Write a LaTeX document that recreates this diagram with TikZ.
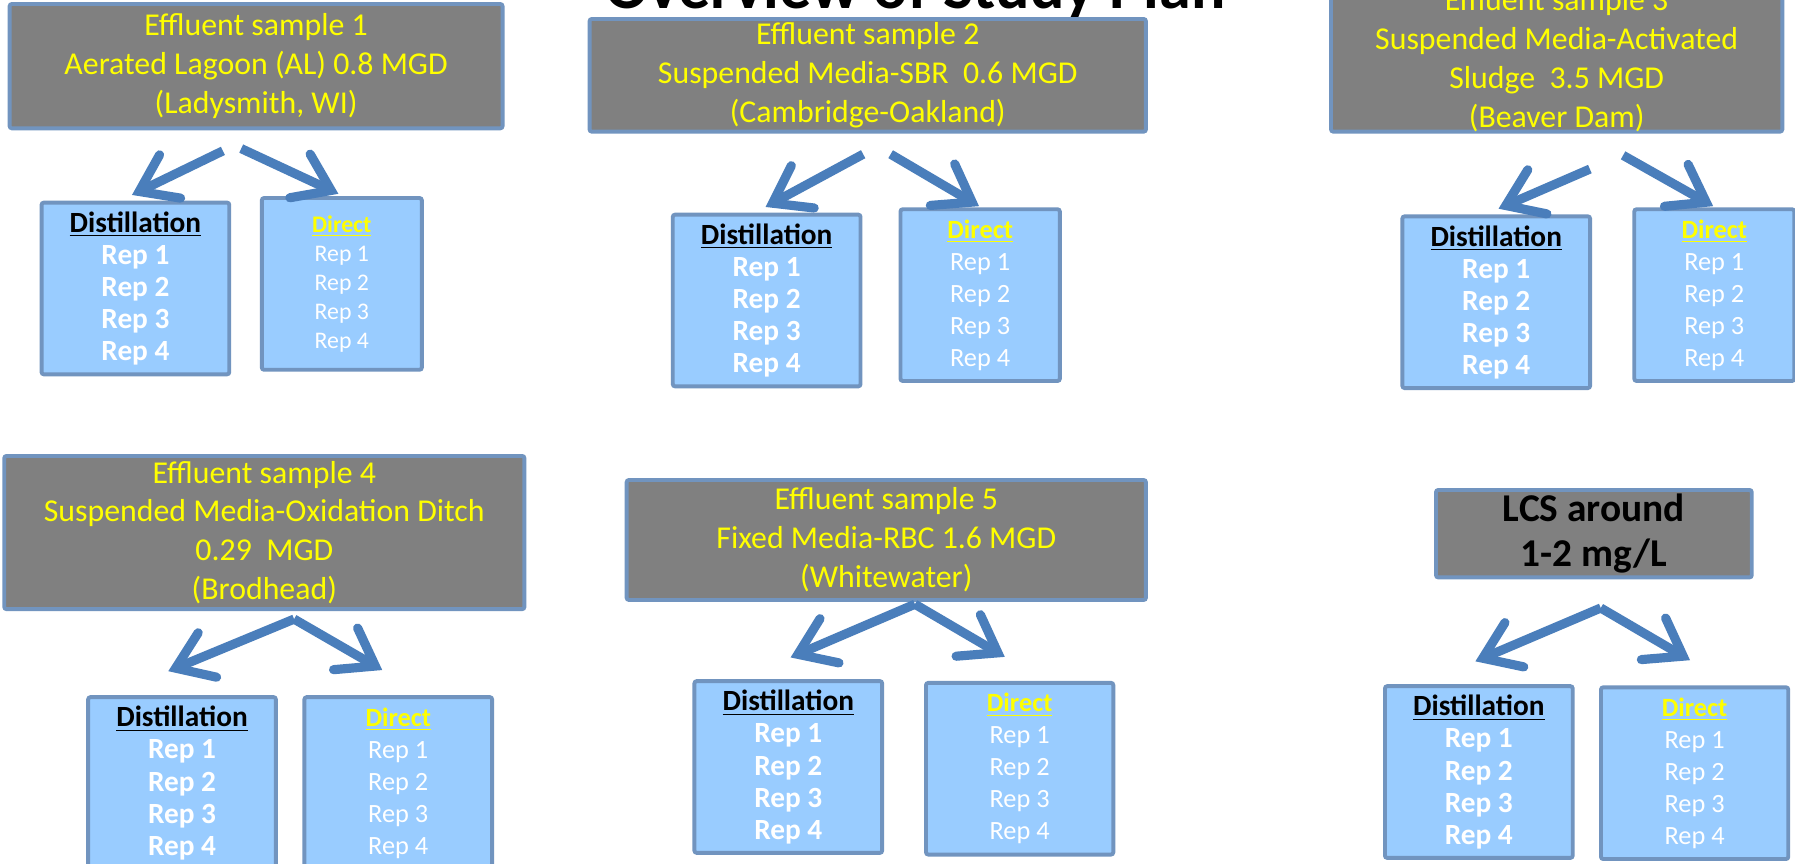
\documentclass[tikz,border=0pt]{standalone}
\usepackage{fontspec}
\setmainfont{Carlito}
\usetikzlibrary{arrows.meta,calc}

\definecolor{slidegray}{HTML}{808080}
\definecolor{edgeblue}{HTML}{7194BF}
\definecolor{paleblue}{HTML}{99CCFF}
\definecolor{arrowblue}{HTML}{4A7EBB}
\definecolor{hiyellow}{HTML}{FFFF00}

\begin{document}
\begin{tikzpicture}[x=0.5pt, y=-0.5pt,
    sample/.style={rectangle, draw=edgeblue, line width=1.7pt, fill=slidegray, text=hiyellow, align=center, inner sep=0pt, rounded corners=1pt, font=\fontsize{13.9}{17}\selectfont},
    rep/.style={rectangle, draw=edgeblue, line width=1.7pt, fill=paleblue, text=white, align=center, inner sep=0pt, rounded corners=1pt, minimum height=75pt},
    dist/.style={rep, minimum width=82pt, font=\bfseries\fontsize{12.8}{14}\selectfont},
    direct/.style={rep, font=\fontsize{11.5}{14}\selectfont},
    line/.style={draw=arrowblue, line width=4pt, -{Straight Barb[length=15pt, width=21pt, line cap=round]}}]

    \useasboundingbox (0,0) rectangle (1568,754);
    \clip (0,0) rectangle (1568,754);
    \fill[white] (0,0) rectangle (1568,754);

    \node[font=\bfseries\fontsize{28}{33}\selectfont, anchor=base] (title) at (799.5,7) {Overview of Study Plan};

    % effluent samples
    \node[sample, minimum width=215.3pt, minimum height=54.3pt] (s1) at (223.7,57.8) {Effluent sample 1\\Aerated Lagoon (AL) 0.8 MGD\\(Ladysmith, WI)};
    \node[sample, minimum width=243pt, minimum height=49.2pt] (s2) at (758,65.8) {Effluent sample 2\\Suspended Media-SBR\ \ 0.6 MGD\\(Cambridge-Oakland)};
    \node[sample, minimum width=197.1pt, minimum height=62.6pt] (s3) at (1359.8,52.4) {Effluent sample 3\\Suspended Media-Activated\\Sludge\ \ 3.5 MGD\\(Beaver Dam)};
    \node[sample, minimum width=227.2pt, minimum height=66.9pt] (s4) at (230.9,465.2) {Effluent sample 4\\Suspended Media-Oxidation Ditch\\0.29\ \ MGD\\(Brodhead)};
    \node[sample, minimum width=226.8pt, minimum height=52.4pt] (s5) at (774.2,471.7) {Effluent sample 5\\Fixed Media-RBC 1.6 MGD\\(Whitewater)};
    \node[sample, text=black, font=\bfseries\fontsize{17.2}{19.7}\selectfont, minimum width=137.9pt, minimum height=38.2pt] (s6) at (1392.3,466.2) {LCS around\\1-2 mg/L};

    % replicate boxes
    \node[dist] (d1) at (118.3,252) {\textcolor{black}{\underline{Distillation}}\\Rep 1\\Rep 2\\Rep 3\\Rep 4};
    \node[direct, minimum width=69.9pt, font=\fontsize{10.4}{12.7}\selectfont] (r1) at (298.6,248) {\textcolor{hiyellow}{\underline{\textbf{Direct}}}\\Rep 1\\Rep 2\\Rep 3\\Rep 4};
    \node[dist] (d2) at (669.7,262.5) {\textcolor{black}{\underline{Distillation}}\\Rep 1\\Rep 2\\Rep 3\\Rep 4};
    \node[direct, minimum width=69.6pt] (r2) at (856.2,257.8) {\textcolor{hiyellow}{\underline{\textbf{Direct}}}\\Rep 1\\Rep 2\\Rep 3\\Rep 4};
    \node[dist] (d3) at (1307,264) {\textcolor{black}{\underline{Distillation}}\\Rep 1\\Rep 2\\Rep 3\\Rep 4};
    \node[direct, minimum width=69.9pt] (r3) at (1497.5,257.8) {\textcolor{hiyellow}{\underline{\textbf{Direct}}}\\Rep 1\\Rep 2\\Rep 3\\Rep 4};
    \node[dist] (d4) at (159,684) {\textcolor{black}{\underline{Distillation}}\\Rep 1\\Rep 2\\Rep 3\\Rep 4};
    \node[direct, minimum width=82pt] (r4) at (347.9,684) {\textcolor{hiyellow}{\underline{\textbf{Direct}}}\\Rep 1\\Rep 2\\Rep 3\\Rep 4};
    \node[dist] (d5) at (688.6,670) {\textcolor{black}{\underline{Distillation}}\\Rep 1\\Rep 2\\Rep 3\\Rep 4};
    \node[direct, minimum width=81.8pt] (r5) at (890.7,671.5) {\textcolor{hiyellow}{\underline{\textbf{Direct}}}\\Rep 1\\Rep 2\\Rep 3\\Rep 4};
    \node[dist] (d6) at (1291.8,674.4) {\textcolor{black}{\underline{Distillation}}\\Rep 1\\Rep 2\\Rep 3\\Rep 4};
    \node[direct, minimum width=81.8pt] (r6) at (1480.3,675.4) {\textcolor{hiyellow}{\underline{\textbf{Direct}}}\\Rep 1\\Rep 2\\Rep 3\\Rep 4};

    % arrows
    \draw[line] ($(s1.south)+(-29,18)$) -- ($(d1.north)+(-3,-5)$);
    \draw[line] ($(s1.south)+(-13,16)$) -- ($(r1.north)+(-3,-2)$);
    \draw[line] ($(s2.south)+(-4,18)$) -- ($(d2.north)+(-1,-5)$);
    \draw[line] ($(s2.south)+(20,18)$) -- ($(r2.north)+(-1,-1)$);
    \draw[line] ($(s3.south)+(29,31)$) -- ($(d3.north)+(2,-5)$);
    \draw[line] ($(s3.south)+(58,19)$) -- ($(r3.north)+(-1,-1)$);

    \coordinate (a4) at ($(s4.south)+(26,7)$);
    \coordinate (a5) at ($(s5.south)+(25,2)$);
    \coordinate (a6) at ($(s6.south)+(6,25)$);
    \path[line] (a4) -- ($(d4.north)+(-12,-21)$);
    \path[line] (a4) -- ($(r4.north)+(-14,-22)$);
    \path[line] (a5) -- ($(d5.north)+(2,-19)$);
    \path[line] (a5) -- ($(r5.north)+(-13,-21)$);
    \path[line] (a6) -- ($(d6.north)+(-3,-20)$);
    \path[line] (a6) -- ($(r6.north)+(-4,-22)$);
\end{tikzpicture}
\end{document}
